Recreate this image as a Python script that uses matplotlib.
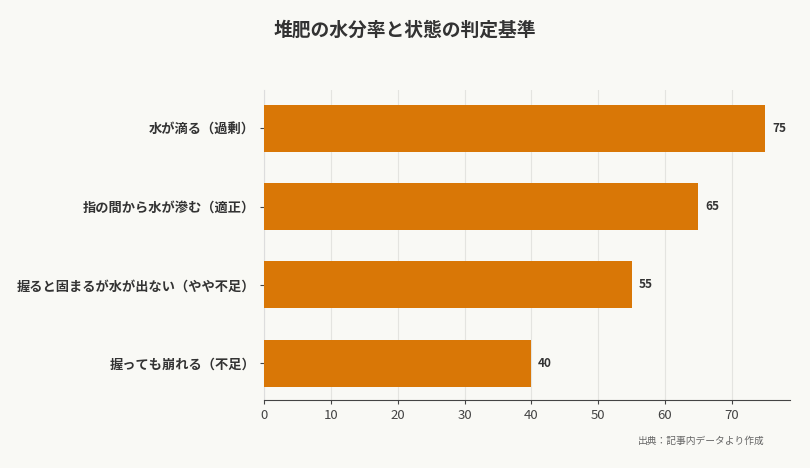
import matplotlib
matplotlib.use("Agg")
import matplotlib.pyplot as plt

plt.rcParams['font.family'] = ['Noto Sans CJK JP', 'DejaVu Sans']

categories = ["水が滴る（過剰）", "指の間から水が滲む（適正）", "握ると固まるが水が出ない（やや不足）", "握っても崩れる（不足）"]
values = [75, 65, 55, 40]
xticks = [0, 10, 20, 30, 40, 50, 60, 70]

bg = "#f9f9f5"
fig = plt.figure(figsize=(8.1, 4.68), dpi=100, facecolor=bg)
ax = fig.add_axes([264/810, 1-400/468, 526/810, 310/468], facecolor=bg)

y = list(range(len(categories)))
ax.barh(y, values, height=0.6, color="#d97706", zorder=3)
for yi, v in zip(y, values):
    ax.text(v + 1, yi, str(v), va="center", ha="left", fontsize=8.5, fontweight="bold", color="#333333")
ax.set_yticks(y)
ax.set_yticklabels(categories, fontsize=9.5, fontweight="bold", color="#333333")
ax.set_ylim(3.47, -0.49)
ax.set_xlim(0, 78.7)
ax.set_xticks(xticks)
ax.tick_params(axis="x", labelsize=9.5, colors="#444444", length=3)
ax.tick_params(axis="y", length=3, color="#444444")
ax.grid(axis="x", color="#e4e4e0", linewidth=0.8, zorder=0)
for s in ["top", "right"]:
    ax.spines[s].set_visible(False)
ax.spines["left"].set_color("#dddddd")
ax.spines["bottom"].set_color("#444444")

fig.text(405/810, 1-30/468, "堆肥の水分率と状態の判定基準", ha="center", va="center", fontsize=13.5, fontweight="bold", color="#333333")
fig.text(765/810, 1-441/468, "出典：記事内データより作成", ha="right", va="center", fontsize=7, color="#666666")
fig.savefig("out.png", dpi=100, facecolor=bg)
